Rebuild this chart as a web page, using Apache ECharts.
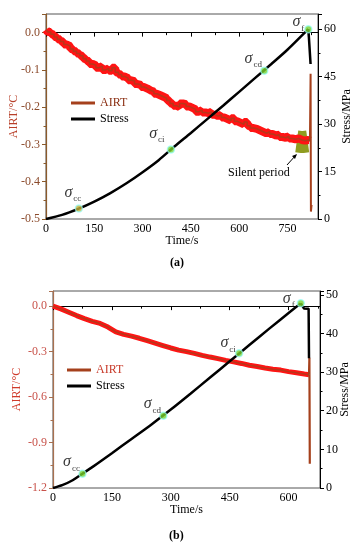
<!DOCTYPE html>
<html>
<head>
<meta charset="utf-8">
<script src="https://cdn.jsdelivr.net/npm/echarts@6/dist/echarts.min.js"></script>
<style>
html,body{margin:0;padding:0;background:#fff;}
#c{width:359px;height:550px;}
</style>
</head>
<body>
<div id="c"></div>
<script>
// ---------- DATA: panel (a) ----------
const airtA = [
 [0,0.008],[10,0.002],[20,-0.004],[30,-0.012],[40,-0.018],[50,-0.024],[60,-0.032],[70,-0.036],[80,-0.044],[90,-0.05],
 [100,-0.056],[110,-0.062],[120,-0.07],[130,-0.076],[140,-0.084],[150,-0.088],[160,-0.094],[170,-0.09],[180,-0.1],[190,-0.096],
 [200,-0.102],[210,-0.094],[220,-0.106],[230,-0.112],[240,-0.118],[250,-0.122],[260,-0.128],[270,-0.13],[280,-0.138],[290,-0.14],
 [300,-0.146],[310,-0.15],[320,-0.155],[330,-0.158],[340,-0.164],[350,-0.168],[360,-0.172],[370,-0.176],[380,-0.182],[390,-0.19],
 [400,-0.196],[410,-0.2],[420,-0.19],[430,-0.192],[440,-0.198],[450,-0.202],[460,-0.206],[470,-0.212],[480,-0.208],[490,-0.214],
 [500,-0.216],[510,-0.212],[520,-0.22],[530,-0.224],[540,-0.22],[550,-0.228],[560,-0.232],[570,-0.236],[580,-0.23],[590,-0.238],
 [600,-0.242],[610,-0.246],[620,-0.24],[630,-0.25],[640,-0.256],[650,-0.258],[660,-0.262],[670,-0.266],[680,-0.27],[690,-0.266],
 [700,-0.272],[710,-0.276],[720,-0.274],[730,-0.28],[740,-0.282],[750,-0.278],[760,-0.284],[770,-0.286],[780,-0.284],[790,-0.288],
 [800,-0.29],[810,-0.288],[820,-0.29]
];
const airtDropA = [[820,-0.29],[822,-0.11],[823,-0.48],[825,-0.462]];
const silentA = [[779,-0.292],[796,-0.294],[813,-0.292]];
const stressA = [
 [0,0],[50,1.3],[100,3.2],[150,5.5],[200,8.2],[250,11.3],[300,14.8],[350,18.6],[400,23],[450,27.2],
 [500,31.5],[550,35.8],[600,40.2],[650,44.6],[700,49],[750,53.5],[800,58.5],[815,60]
];
const stressTailA = [[815,60],[821,59.6],[822,49]];
const keyNamesA = ['cc','ci','cd','f'];
const keyTimesA = [102,388,678,815];
const keyStressA = [3.3,22,46.9,60];

// ---------- DATA: panel (b) ----------
const airtB = [
 [0,0.0],[20,-0.018],[40,-0.04],[60,-0.062],[80,-0.082],[100,-0.1],[120,-0.114],[140,-0.138],[160,-0.17],[180,-0.186],
 [200,-0.198],[220,-0.212],[240,-0.228],[260,-0.244],[280,-0.26],[300,-0.276],[320,-0.29],[340,-0.3],[360,-0.312],[380,-0.325],
 [400,-0.336],[420,-0.346],[440,-0.358],[460,-0.368],[480,-0.378],[500,-0.39],[520,-0.398],[540,-0.408],[560,-0.416],[580,-0.422],
 [600,-0.432],[620,-0.44],[640,-0.448],[652,-0.452]
];
const airtDropB = [[652,-0.452],[653,-0.34],[654,-1.04]];
const stressB = [
 [0,0],[25,0.8],[50,2.0],[75,3.7],[100,5.4],[150,9.0],[200,12.7],[250,16.4],[300,20.3],[350,24.4],
 [400,28.6],[450,32.8],[500,37.0],[550,41.2],[600,45.3],[631,47.8]
];
const stressTailB = [[631,47.8],[639,46.5],[644,47],[651,46.4],[652,33.6]];
const keyNamesB = ['cc','cd','ci','f'];
const keyTimesB = [75,281,474,631];
const keyStressB = [3.7,18.7,34.9,47.8];

// tick label sets
const xTicks = [0,150,300,450,600,750];

// ---------- styling ----------
const FONT = 'Liberation Serif';
const RED = '#ff1414';
const BROWN = '#a5401c';
const GREEN = '#77d12e';
const offsA = [[-6,-16],[-14,-16],[-11,-12],[-10,-7]];
const offsB = [[-11,-12],[-11,-12],[-11,-10],[-12,-5]];

function keySeries(names, times, vals, offs, xi, yi, colors) {
  return {
    type:'scatter', xAxisIndex:xi, yAxisIndex:yi, symbolSize:7, z:10,
    data: names.map((n,i)=>({
      value:[times[i], vals[i]],
      itemStyle:{color:colors[i], borderColor:'rgba(150,255,255,0.85)', borderWidth:1.5},
      label:{show:true, position:'inside', offset:offs[i],
        formatter:'{s|σ}{sub|'+n+'}',
        rich:{
          s:{fontFamily:FONT, fontStyle:'italic', fontSize:16, color:'#000', verticalAlign:'bottom'},
          sub:{fontFamily:FONT, fontSize:9, color:'#000', verticalAlign:'bottom', padding:[0,0,-3,1]}
        }}
    }))
  };
}

const fmt1 = v => (Math.abs(v) < 1e-9 ? 0 : v).toFixed(1);

function leftAxis(gi, min, max, interval, lblColor, lineColor, nameColor, gap) {
  return {
    type:'value', gridIndex:gi, position:'left', min, max, interval,
    name:'AIRT/°C', nameLocation:'middle', nameGap:gap, nameRotate:90, nameMoveOverlap:false,
    nameTextStyle:{fontFamily:FONT, fontSize:12, color:nameColor},
    axisLine:{show:true, lineStyle:{color:lineColor, width:1.2}},
    axisTick:{show:true, length:4, lineStyle:{color:lineColor}},
    minorTick:{show:true, splitNumber:2, length:2.5, lineStyle:{color:lineColor}},
    splitLine:{show:false},
    axisLabel:{fontFamily:FONT, fontSize:12, color:lblColor, margin:6, formatter:fmt1, showMaxLabel:false}
  };
}
function rightAxis(gi, min, max, interval, gap) {
  return {
    type:'value', gridIndex:gi, position:'right', min, max, interval,
    name:'Stress/MPa', nameLocation:'middle', nameGap:gap, nameRotate:90, nameMoveOverlap:false,
    nameTextStyle:{fontFamily:FONT, fontSize:12, color:'#000'},
    axisLine:{show:true, lineStyle:{color:'#000', width:1}},
    axisTick:{show:true, length:4, lineStyle:{color:'#000'}},
    minorTick:{show:true, splitNumber:2, length:2.5, lineStyle:{color:'#000'}},
    splitLine:{show:false},
    axisLabel:{fontFamily:FONT, fontSize:12, color:'#000', margin:6, showMaxLabel:false}
  };
}
function bottomAxis(gi, max) {
  return {
    type:'value', gridIndex:gi, min:0, max, interval:150,
    name:'Time/s', nameLocation:'middle', nameGap:16, nameMoveOverlap:false,
    nameTextStyle:{fontFamily:FONT, fontSize:12, color:'#000'},
    axisLine:{show:true, lineStyle:{color:'#000', width:1}},
    axisTick:{show:true, length:4, lineStyle:{color:'#000'}},
    minorTick:{show:true, splitNumber:2, length:2.5, lineStyle:{color:'#000'}},
    splitLine:{show:false},
    axisLabel:{fontFamily:FONT, fontSize:12, color:'#000', margin:4, showMaxLabel:false,
      formatter: v => xTicks.indexOf(v) >= 0 ? String(v) : ''}
  };
}

function stressCurve(data, xi, yi) {
  return {type:'line', name:'Stress', xAxisIndex:xi, yAxisIndex:yi, data, showSymbol:false, smooth:0.3,
    color:'#000', lineStyle:{color:'#000', width:2.5}, z:4};
}
function stressTail(data, xi, yi) {
  return {type:'line', name:'Stress', xAxisIndex:xi, yAxisIndex:yi, data, showSymbol:false,
    color:'#000', lineStyle:{color:'#000', width:2.5}, z:4};
}

const option = {
  animation:false,
  backgroundColor:'#fff',
  grid:[
    {left:46, top:14, width:272, height:205, show:true, borderColor:'#555', borderWidth:1,
     containLabel:false, outerBoundsMode:'none'},
    {left:53, top:291, width:267, height:197, show:true, borderColor:'#555', borderWidth:1,
     containLabel:false, outerBoundsMode:'none'}
  ],
  xAxis:[ bottomAxis(0, 845), bottomAxis(1, 680) ],
  yAxis:[
    leftAxis(0, -0.5, 0.05, 0.1, '#8b4a2b', '#8b5a2b', '#b8402a', 26),
    rightAxis(0, 0, 64.8, 15, 23),
    leftAxis(1, -1.2, 0.1, 0.3, '#c8524a', '#a87050', '#d03a2a', 30),
    rightAxis(1, 0, 51, 10, 19)
  ],
  legend:[
    {left:66, top:92, orient:'vertical', itemGap:4, itemWidth:24, itemHeight:3, icon:'rect',
     textStyle:{fontFamily:FONT, fontSize:12},
     data:[{name:'AIRT', textStyle:{color:'#8b2f12'}},{name:'Stress', textStyle:{color:'#000'}}]},
    {left:62, top:359, orient:'vertical', itemGap:4, itemWidth:24, itemHeight:3, icon:'rect',
     textStyle:{fontFamily:FONT, fontSize:12},
     data:[{name:'AIRT', textStyle:{color:'#c83a2a'}},{name:'Stress', textStyle:{color:'#000'}}]}
  ],
  series:[
    // panel (a)
    {type:'line', name:'silent', xAxisIndex:0, yAxisIndex:0, data:silentA, showSymbol:false,
     lineStyle:{color:'#8f9c20', width:22}, z:1},
    {type:'line', name:'AIRT band', xAxisIndex:0, yAxisIndex:0, data:airtA, showSymbol:false, step:'middle',
     lineStyle:{color:RED, width:8}, z:2},
    {type:'line', name:'AIRT', xAxisIndex:0, yAxisIndex:0, data:airtA, showSymbol:false, step:'middle',
     color:BROWN, lineStyle:{color:BROWN, width:1.5, opacity:0.8}, z:3},
    {type:'line', name:'AIRT', xAxisIndex:0, yAxisIndex:0, data:airtDropA, showSymbol:false,
     color:BROWN, lineStyle:{color:BROWN, width:2}, z:3},
    stressCurve(stressA, 0, 1),
    stressTail(stressTailA, 0, 1),
    keySeries(keyNamesA, keyTimesA, keyStressA, offsA, 0, 1, ['#c2b23a',GREEN,GREEN,GREEN]),
    // panel (b)
    {type:'line', name:'AIRT band', xAxisIndex:1, yAxisIndex:2, data:airtB, showSymbol:false,
     lineStyle:{color:RED, width:5}, z:2},
    {type:'line', name:'AIRT', xAxisIndex:1, yAxisIndex:2, data:airtB, showSymbol:false,
     color:BROWN, lineStyle:{color:BROWN, width:1.5, opacity:0.8}, z:3},
    {type:'line', name:'AIRT', xAxisIndex:1, yAxisIndex:2, data:airtDropB, showSymbol:false,
     color:BROWN, lineStyle:{color:BROWN, width:2.2}, z:3},
    stressCurve(stressB, 1, 3),
    stressTail(stressTailB, 1, 3),
    keySeries(keyNamesB, keyTimesB, keyStressB, offsB, 1, 3, [GREEN,GREEN,GREEN,GREEN])
  ],
  graphic:[
    {type:'text', left:228, top:167, style:{text:'Silent period', fontFamily:FONT, fontSize:12, fill:'#000'}},
    {type:'line', shape:{x1:287, y1:165, x2:296, y2:155}, style:{stroke:'#000', lineWidth:1}},
    {type:'polygon', shape:{points:[[297,154],[292,156],[295,159]]}, style:{fill:'#000'}},
    {type:'text', left:170, top:257, style:{text:'(a)', fontFamily:FONT, fontSize:12, fontWeight:'bold', fill:'#000'}},
    {type:'text', left:169, top:530, style:{text:'(b)', fontFamily:FONT, fontSize:12, fontWeight:'bold', fill:'#000'}}
  ]
};

const chart = echarts.init(document.getElementById('c'), null, {renderer:'canvas'});
chart.setOption(option);
</script>
</body>
</html>
